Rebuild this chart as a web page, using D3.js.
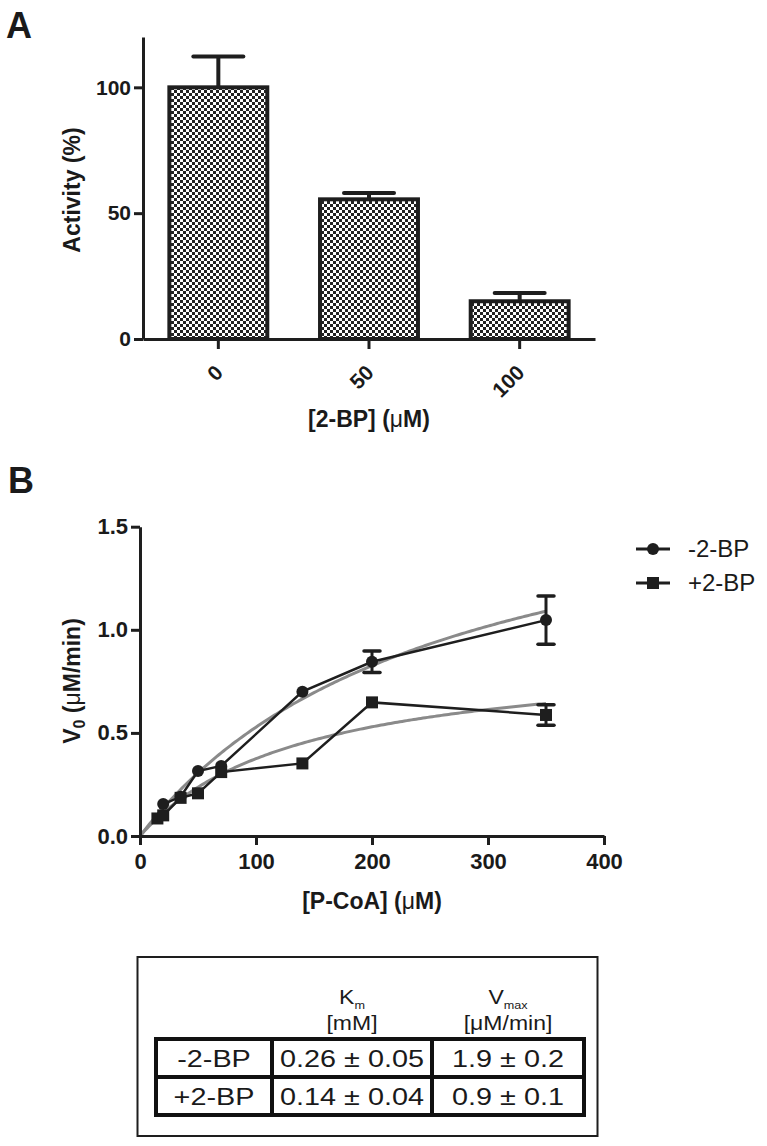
<!DOCTYPE html>
<html>
<head>
<meta charset="utf-8">
<script src="https://cdn.jsdelivr.net/npm/d3@7/dist/d3.min.js"></script>
<style>
  html, body { margin: 0; padding: 0; background: #fff; }
  svg { display: block; }
  text { font-family: "Liberation Sans", Arial, sans-serif; fill: #1a1a1a; }
</style>
</head>
<body>
<svg id="chart" width="767" height="1146"></svg>
<script>
// ---------- Panel A data ----------
const bpConc = ["0", "50", "100"];
const activity = [100, 55.5, 15];
const activityErr = [12.3, 2.5, 3.3];
const activityTicks = [0, 50, 100];

// ---------- Panel B data ----------
const minusX = [20, 35, 50, 70, 140, 200, 350];
const minusY = [0.155, 0.19, 0.315, 0.34, 0.70, 0.845, 1.047];
const minusErr = [0, 0, 0, 0, 0, 0.052, 0.117];
const plusX = [15, 20, 35, 50, 70, 140, 200, 350];
const plusY = [0.085, 0.10, 0.185, 0.207, 0.31, 0.352, 0.648, 0.587];
const plusErr = [0, 0, 0, 0, 0, 0, 0, 0.05];
const v0Ticks = [0, 0.5, 1.0, 1.5];
const pcoaTicks = [0, 100, 200, 300, 400];
const seriesNames = ["-2-BP", "+2-BP"];

// ---------- Table data (fit parameters) ----------
const kmText = ["0.26 ± 0.05", "0.14 ± 0.04"];
const vmaxText = ["1.9 ± 0.2", "0.9 ± 0.1"];
const kmMilliMolar = [0.26, 0.14];
const vmaxValues = [1.9, 0.9];
const fitEndX = 350;

const svg = d3.select("#chart");
const ink = "#1e1e1e";

// ================= Panel A =================
const defs = svg.append("defs");
const pat = defs.append("pattern").attr("id", "checker")
  .attr("patternUnits", "userSpaceOnUse").attr("width", 6).attr("height", 6);
pat.append("rect").attr("width", 6).attr("height", 6).attr("fill", "#fff");
pat.append("rect").attr("width", 3).attr("height", 3).attr("fill", "#222");
pat.append("rect").attr("x", 3).attr("y", 3).attr("width", 3).attr("height", 3).attr("fill", "#222");

const xA = d3.scaleBand().domain(bpConc).range([143, 595]).paddingInner(0.35).paddingOuter(0.175);
const yA = d3.scaleLinear().domain([0, 120]).range([339, 37]);

const gA = svg.append("g");
gA.selectAll("rect.bar").data(bpConc).join("rect").attr("class", "bar")
  .attr("x", d => xA(d)).attr("width", xA.bandwidth())
  .attr("y", (d, i) => yA(activity[i])).attr("height", (d, i) => yA(0) - yA(activity[i]))
  .attr("fill", "url(#checker)").attr("stroke", ink).attr("stroke-width", 4);

gA.selectAll("line.err").data(bpConc).join("line").attr("class", "err")
  .attr("x1", d => xA(d) + xA.bandwidth() / 2).attr("x2", d => xA(d) + xA.bandwidth() / 2)
  .attr("y1", (d, i) => yA(activity[i])).attr("y2", (d, i) => yA(activity[i] + activityErr[i]))
  .attr("stroke", ink).attr("stroke-width", 4);
gA.selectAll("line.cap").data(bpConc).join("line").attr("class", "cap")
  .attr("x1", d => xA(d) + xA.bandwidth() / 2 - 25).attr("x2", d => xA(d) + xA.bandwidth() / 2 + 25)
  .attr("y1", (d, i) => yA(activity[i] + activityErr[i])).attr("y2", (d, i) => yA(activity[i] + activityErr[i]))
  .attr("stroke", ink).attr("stroke-width", 4).attr("stroke-linecap", "round");

function styleAxis(g, fs) {
  g.select(".domain").attr("stroke", ink).attr("stroke-width", 3);
  g.selectAll(".tick line").attr("stroke", ink).attr("stroke-width", 3);
  g.selectAll(".tick text").attr("font-size", fs).attr("font-weight", "bold")
    .attr("font-family", "Liberation Sans, Arial, sans-serif").attr("fill", "#1a1a1a");
}

const yAxisA = gA.append("g").attr("transform", "translate(143,0)")
  .call(d3.axisLeft(yA).tickValues(activityTicks).tickSize(9).tickSizeOuter(0).tickPadding(3));
styleAxis(yAxisA, 21);

const xAxisA = gA.append("g").attr("transform", "translate(0,339)")
  .call(d3.axisBottom(xA).tickSize(10).tickSizeOuter(0));
styleAxis(xAxisA, 21);
xAxisA.selectAll(".tick text")
  .attr("text-anchor", "end").attr("dy", null).attr("y", null)
  .attr("transform", "translate(6,35) rotate(-45)");

gA.append("text").attr("transform", "translate(80,190) rotate(-90)")
  .attr("text-anchor", "middle").attr("font-size", 23).attr("font-weight", "bold")
  .text("Activity (%)");

const xtA = gA.append("text").attr("x", 369).attr("y", 427).attr("text-anchor", "middle")
  .attr("font-size", 23).attr("font-weight", "bold");
xtA.append("tspan").text("[2-BP] (");
xtA.append("tspan").attr("font-weight", "normal").text("μ");
xtA.append("tspan").text("M)");

svg.append("text").attr("x", 6).attr("y", 38).attr("font-size", 36).attr("font-weight", "bold").text("A");

// ================= Panel B =================
const xB = d3.scaleLinear().domain([0, 400]).range([140, 604]);
const yB = d3.scaleLinear().domain([0, 1.5]).range([836, 526.7]);
const gB = svg.append("g");

// fitted Michaelis-Menten curves from the table's Km / Vmax (Km in mM -> µM)
const fitColor = "#8a8a8a";
const fitXs = d3.range(0, fitEndX + 0.001, 2);
const fitLine = d3.line().x(d => xB(d[0])).y(d => yB(d[1]));
kmMilliMolar.forEach((km, i) => {
  const kmU = km * 1000;
  gB.append("path")
    .attr("d", fitLine(fitXs.map(x => [x, vmaxValues[i] * x / (kmU + x)])))
    .attr("fill", "none").attr("stroke", fitColor).attr("stroke-width", 3);
});

const dataLine = d3.line().x(d => xB(d[0])).y(d => yB(d[1]));
const seriesData = [
  { x: minusX, y: minusY, e: minusErr, shape: "circle" },
  { x: plusX, y: plusY, e: plusErr, shape: "square" }
];
seriesData.forEach(s => {
  const pts = s.x.map((x, i) => [x, s.y[i], s.e[i]]);
  gB.append("path").attr("d", dataLine(pts)).attr("fill", "none")
    .attr("stroke", ink).attr("stroke-width", 2.5);
  const eb = gB.append("g");
  pts.filter(p => p[2] > 0).forEach(p => {
    const cx = xB(p[0]);
    eb.append("line").attr("x1", cx).attr("x2", cx).attr("y1", yB(p[1] - p[2])).attr("y2", yB(p[1] + p[2]))
      .attr("stroke", ink).attr("stroke-width", 3);
    [p[1] - p[2], p[1] + p[2]].forEach(v => {
      eb.append("line").attr("x1", cx - 8).attr("x2", cx + 8).attr("y1", yB(v)).attr("y2", yB(v))
        .attr("stroke", ink).attr("stroke-width", 3.5).attr("stroke-linecap", "round");
    });
  });
  if (s.shape === "circle") {
    gB.selectAll(null).data(pts).join("circle")
      .attr("cx", d => xB(d[0])).attr("cy", d => yB(d[1])).attr("r", 6).attr("fill", ink);
  } else {
    gB.selectAll(null).data(pts).join("rect")
      .attr("x", d => xB(d[0]) - 6).attr("y", d => yB(d[1]) - 6).attr("width", 12).attr("height", 12).attr("fill", ink);
  }
});

const yAxisB = gB.append("g").attr("transform", "translate(140,0)")
  .call(d3.axisLeft(yB).tickValues(v0Ticks).tickFormat(d3.format(".1f")).tickSize(9).tickSizeOuter(0).tickPadding(3));
styleAxis(yAxisB, 22);
const xAxisB = gB.append("g").attr("transform", "translate(0,836)")
  .call(d3.axisBottom(xB).tickValues(pcoaTicks).tickFormat(d3.format("d")).tickSize(9).tickSizeOuter(0).tickPadding(8));
styleAxis(xAxisB, 22);

const ytB = gB.append("text").attr("transform", "translate(80,681) rotate(-90)")
  .attr("text-anchor", "middle").attr("font-size", 23).attr("font-weight", "bold");
ytB.append("tspan").text("V");
ytB.append("tspan").attr("font-size", 16).attr("dy", 5).text("0");
ytB.append("tspan").attr("dy", -5).text(" (");
ytB.append("tspan").attr("font-weight", "normal").text("μ");
ytB.append("tspan").text("M/min)");

const xtB = gB.append("text").attr("x", 372).attr("y", 909).attr("text-anchor", "middle")
  .attr("font-size", 23).attr("font-weight", "bold");
xtB.append("tspan").text("[P-CoA] (");
xtB.append("tspan").attr("font-weight", "normal").text("μ");
xtB.append("tspan").text("M)");

// legend
const legY = [549, 583];
seriesNames.forEach((name, i) => {
  const g = gB.append("g").attr("transform", `translate(0,${legY[i]})`);
  g.append("line").attr("x1", 636).attr("x2", 670).attr("stroke", ink).attr("stroke-width", 3);
  if (i === 0) g.append("circle").attr("cx", 653).attr("r", 6).attr("fill", ink);
  else g.append("rect").attr("x", 647).attr("y", -6).attr("width", 12).attr("height", 12).attr("fill", ink);
  g.append("text").attr("x", 688).attr("y", 8).attr("font-size", 24).text(name);
});

svg.append("text").attr("x", 8).attr("y", 493).attr("font-size", 36).attr("font-weight", "bold").text("B");

// ================= Table =================
const gT = svg.append("g");
gT.append("rect").attr("x", 137.5).attr("y", 957).attr("width", 460).attr("height", 179)
  .attr("fill", "none").attr("stroke", ink).attr("stroke-width", 2);
const colEdges = [156, 272, 432, 584];
const rowEdges = [1039, 1077, 1115];
gT.append("rect").attr("x", colEdges[0]).attr("y", rowEdges[0])
  .attr("width", colEdges[3] - colEdges[0]).attr("height", rowEdges[2] - rowEdges[0])
  .attr("fill", "none").attr("stroke", "#111").attr("stroke-width", 4);
[colEdges[1], colEdges[2]].forEach(x => gT.append("line").attr("x1", x).attr("x2", x)
  .attr("y1", rowEdges[0]).attr("y2", rowEdges[2]).attr("stroke", "#111").attr("stroke-width", 4));
gT.append("line").attr("x1", colEdges[0]).attr("x2", colEdges[3]).attr("y1", rowEdges[1]).attr("y2", rowEdges[1])
  .attr("stroke", "#111").attr("stroke-width", 4);

const colC = [0, 1, 2].map(i => (colEdges[i] + colEdges[i + 1]) / 2);
// text helper: horizontally widened text, as in the reference table
function wideText(x, y, size, sx) {
  return gT.append("text").attr("transform", `translate(${x},${y}) scale(${sx},1)`)
    .attr("text-anchor", "middle").attr("font-size", size);
}
const hK = wideText(colC[1], 1004, 20, 1.15);
hK.append("tspan").text("K");
hK.append("tspan").attr("font-size", 11).attr("dy", 5).text("m");
wideText(colC[1], 1030, 20, 1.15).text("[mM]");
const hV = wideText(colC[2], 1004, 20, 1.15);
hV.append("tspan").text("V");
hV.append("tspan").attr("font-size", 11).attr("dy", 5).text("max");
wideText(colC[2], 1030, 20, 1.15).text("[μM/min]");

seriesNames.forEach((name, r) => {
  const yb = (rowEdges[r] + rowEdges[r + 1]) / 2 + 8.5;
  [name, kmText[r], vmaxText[r]].forEach((t, c) => {
    wideText(colC[c], yb, 24, 1.2).text(t);
  });
});
</script>
</body>
</html>
